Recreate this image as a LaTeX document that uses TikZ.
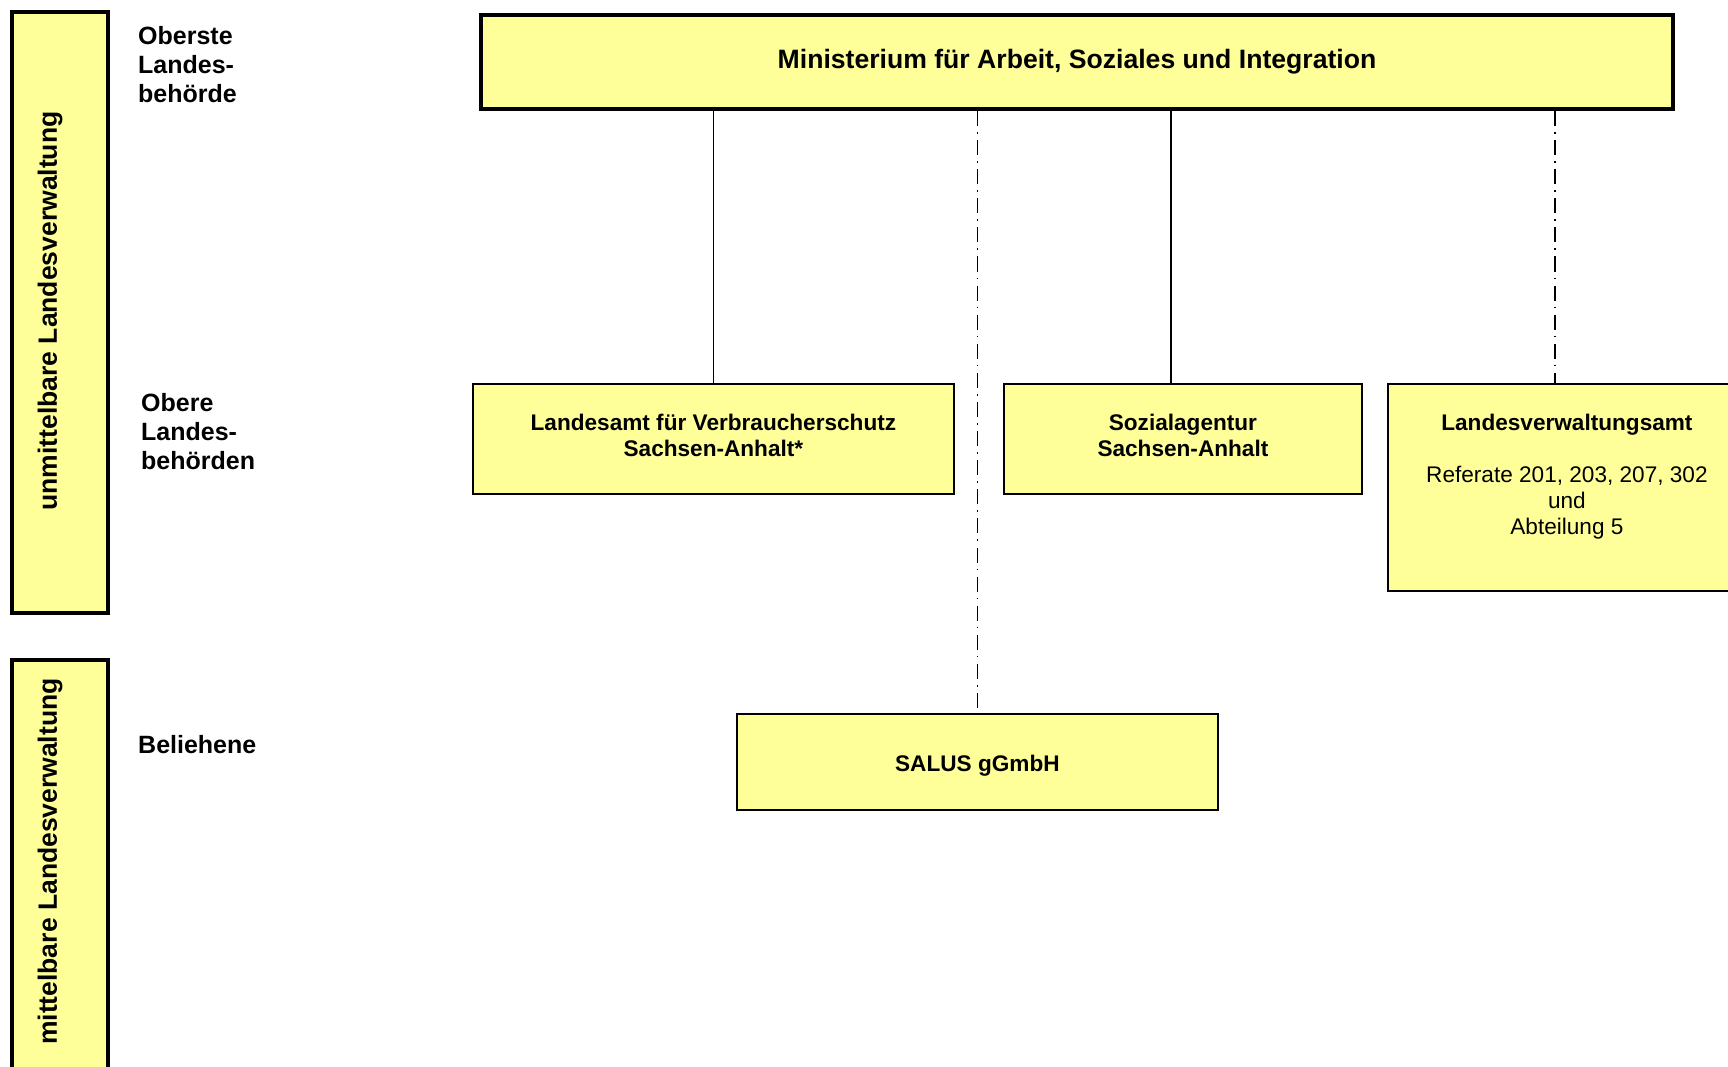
\documentclass[tikz,border=0pt]{standalone}
\usepackage{fontspec}
\setmainfont{Liberation Sans}
\definecolor{boxyellow}{RGB}{255,255,153}
\begin{document}
\begin{tikzpicture}[x=1pt,y=-1pt,
  thickbox/.style={draw=black, line width=4pt, fill=boxyellow, inner sep=0pt},
  thinbox/.style={draw=black, line width=1.8pt, fill=boxyellow, inner sep=0pt},
  boxtext/.style={font=\bfseries\fontsize{22.6}{26}\selectfont, align=center, inner sep=0pt},
  sidelabel/.style={font=\bfseries\fontsize{25}{29}\selectfont, align=left, inner sep=0pt},
  barlabel/.style={font=\bfseries\fontsize{26.5}{30}\selectfont, inner sep=0pt, rotate=90},
  solidlink/.style={draw=black, line width=1.6pt},
  dashlink/.style={draw=black, line width=1.6pt, dash pattern=on 15pt off 6pt on 1.6pt off 6.5pt}
]
\useasboundingbox (0,0) rectangle (1728,1067);

% left bars
\node[thickbox, anchor=north west, minimum width=96, minimum height=601] (ubar) at (10,10) {};
\node[barlabel] (ubartext) at (50,311) {unmittelbare Landesverwaltung};
\node[thickbox, anchor=north west, minimum width=96, minimum height=450] (mbar) at (10,658) {};
\node[barlabel, anchor=east] (mbartext) at (50,678) {mittelbare Landesverwaltung};

% side labels
\node[sidelabel, anchor=north west] (lab1) at (138,26) {Oberste\\Landes-\\behörde};
\node[sidelabel, anchor=north west] (lab2) at (141,393) {Obere\\Landes-\\behörden};
\node[sidelabel, anchor=base west] (lab3) at (138,753) {Beliehene};

% ministry
\node[thickbox, anchor=north west, minimum width=1192, minimum height=94,
      font=\bfseries\fontsize{26.6}{30}\selectfont] (min) at (479,13) {Ministerium für Arbeit, Soziales und Integration};

% upper authorities
\node[thinbox, anchor=north west, minimum width=481, minimum height=110] (lfv) at (472,383) {};
\node[boxtext, anchor=north] (lfvtext) at ([yshift=-31pt]lfv.north) {Landesamt für Verbraucherschutz\\Sachsen-Anhalt*};

\node[thinbox, anchor=north west, minimum width=358, minimum height=110] (sa) at (1003,383) {};
\node[boxtext, anchor=north] (satext) at ([yshift=-31pt]sa.north) {Sozialagentur\\Sachsen-Anhalt};

\node[thinbox, anchor=north west, minimum width=358, minimum height=207] (lva) at (1387,383) {};
\node[boxtext, anchor=north] (lvatext) at ([yshift=-31pt]lva.north) {Landesverwaltungsamt\\[26pt]
  \mdseries Referate 201, 203, 207, 302\\\mdseries und\\\mdseries Abteilung 5};

% beliehene
\node[thinbox, anchor=north west, minimum width=481, minimum height=96,
      text height=18.6pt, text depth=0pt,
      font=\bfseries\fontsize{22.6}{26}\selectfont] (salus) at (736,713) {SALUS gGmbH};

% connector anchor points
\coordinate (saTop) at (1171,383);
\coordinate (lvaTop) at (1555,383);

% connectors
\draw[solidlink] (min.south -| lfv.north) -- (lfv.north);
\draw[dashlink] (min.south -| salus.north) -- (salus.north);
\draw[solidlink] (min.south -| saTop) -- (saTop);
\draw[dashlink] (min.south -| lvaTop) -- (lvaTop);
\end{tikzpicture}
\end{document}
